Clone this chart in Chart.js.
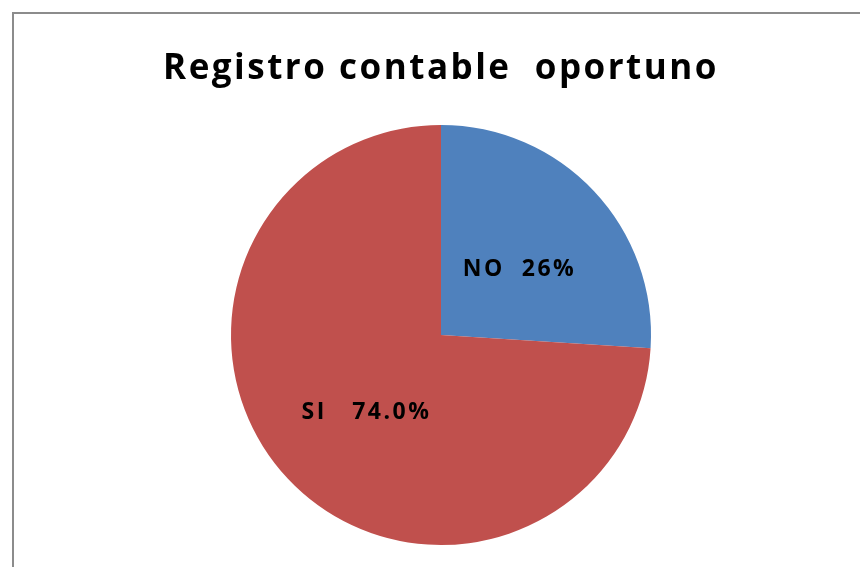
<!DOCTYPE html>
<html>
<head>
<meta charset="utf-8">
<script src="https://cdn.jsdelivr.net/npm/chart.js@4"></script>
<style>
  html, body { margin: 0; padding: 0; background: #fff; overflow: hidden; }
  #wrap { position: relative; width: 860px; height: 567px; }
  #frame {
    position: absolute; left: 12px; top: 12px; width: 900px; height: 600px;
    border: 2px solid #8c8c8c; box-sizing: border-box;
  }
  canvas { position: absolute; left: 0; top: 0; }
</style>
</head>
<body>
<div id="wrap">
  <div id="frame"></div>
  <canvas id="chart" width="860" height="567"></canvas>
</div>
<script>
"use strict";

const CATEGORIES = ["NO", "SI"];
const VALUES = [26, 74];
const SLICE_LABELS = ["NO  26%", "SI   74.0%"];
const COLORS = ["#4f81bd", "#c0504d"];
const TITLE = "Registro contable  oportuno";

// wider tracking for the title (title plugin has no option for it)
const titleSpacing = {
  id: "titleSpacing",
  beforeDraw(chart) {
    if ("letterSpacing" in chart.ctx) chart.ctx.letterSpacing = "2.5px";
  },
  beforeDatasetsDraw(chart) {
    if ("letterSpacing" in chart.ctx) chart.ctx.letterSpacing = "0px";
  },
};

// draws the in-slice labels at each arc's centre point
const sliceLabels = {
  id: "sliceLabels",
  afterDatasetsDraw(chart) {
    const ctx = chart.ctx;
    const arcs = chart.getDatasetMeta(0).data;
    ctx.save();
    ctx.font = "bold 23px 'Open Sans', sans-serif";
    ctx.fillStyle = "#000";
    ctx.textAlign = "center";
    ctx.textBaseline = "middle";
    if ("letterSpacing" in ctx) ctx.letterSpacing = "2.5px";
    arcs.forEach((arc, i) => {
      const p = arc.tooltipPosition();
      ctx.fillText(SLICE_LABELS[i], p.x + 2, p.y + 6);
    });
    ctx.restore();
  },
};

new Chart(document.getElementById("chart").getContext("2d"), {
  type: "pie",
  data: {
    labels: CATEGORIES,
    datasets: [
      {
        data: VALUES,
        backgroundColor: COLORS,
        borderWidth: 0,
      },
    ],
  },
  options: {
    responsive: false,
    animation: false,
    layout: { padding: { left: 22, right: 0, top: 0, bottom: 22 } },
    plugins: {
      legend: { display: false },
      tooltip: { enabled: false },
      title: {
        display: true,
        text: TITLE,
        color: "#000",
        font: { family: "'Open Sans', sans-serif", size: 35, weight: "bold", lineHeight: 1.2 },
        padding: { top: 48, bottom: 35 },
      },
    },
  },
  plugins: [titleSpacing, sliceLabels],
});
</script>
</body>
</html>
